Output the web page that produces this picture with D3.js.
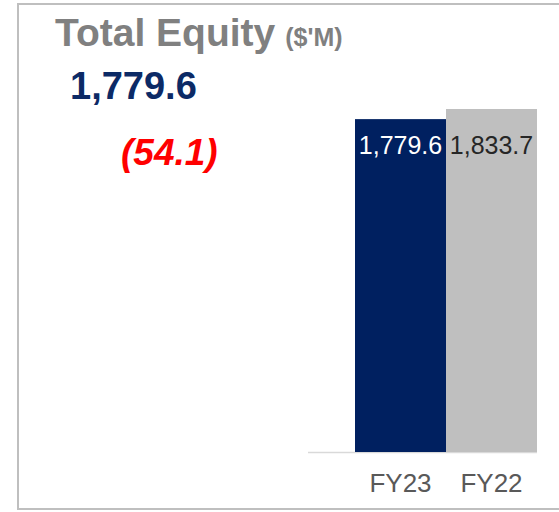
<!DOCTYPE html>
<html>
<head>
<meta charset="utf-8">
<script src="https://cdn.jsdelivr.net/npm/d3@7"></script>
<style>
  body { margin: 0; background: #fff; }
  text { font-family: "Liberation Sans", Arial, sans-serif; }
</style>
</head>
<body>
<div id="chart-area"></div>
<script>
var w = 559;
var h = 512;

// data
var years = ["FY23", "FY22"];
var equity = [1779.6, 1833.7];
var barColors = ["#002060", "#bfbfbf"];
var labelColors = ["#ffffff", "#262626"];
var headline = "1,779.6";
var change = "(54.1)";

var svg = d3.select('#chart-area').append('svg')
    .attr('width', w)
    .attr('height', h);

// frame
svg.append('path')
    .attr('d', 'M559,4 H18 V509 H559')
    .attr('fill', 'none')
    .attr('stroke', '#bfbfbf')
    .attr('stroke-width', 2);

// titles
var title = svg.append('text')
    .attr('x', 55)
    .attr('y', 46)
    .attr('font-size', 39)
    .attr('font-weight', 'bold')
    .attr('fill', '#808080');
title.append('tspan').text('Total Equity');
title.append('tspan').attr('font-size', 25).attr('dx', 10).text("($'M)");

svg.append('text')
    .attr('x', 70)
    .attr('y', 99)
    .attr('font-size', 38)
    .attr('font-weight', 'bold')
    .attr('fill', '#0c2a66')
    .text(headline);

svg.append('text')
    .attr('x', 121)
    .attr('y', 165)
    .attr('font-size', 37)
    .attr('font-weight', 'bold')
    .attr('font-style', 'italic')
    .attr('fill', '#ff0000')
    .text(change);

// bars
var x = d3.scaleBand()
    .domain(years)
    .range([355, 537])
    .padding(0);

var y = d3.scaleLinear()
    .domain([0, d3.max(equity)])
    .range([452, 109]);

svg.append('line')
    .attr('x1', 308)
    .attr('x2', 537)
    .attr('y1', 452.5)
    .attr('y2', 452.5)
    .attr('stroke', '#d9d9d9')
    .attr('stroke-width', 1.5);

svg.selectAll('rect.bar')
    .data(equity)
    .enter()
    .append('rect')
    .attr('class', 'bar')
    .attr('x', (d, i) => x(years[i]))
    .attr('y', d => y(d))
    .attr('width', x.bandwidth())
    .attr('height', d => y(0) - y(d))
    .attr('fill', (d, i) => barColors[i]);

var fmt = d3.format(",.1f");
svg.selectAll('text.val')
    .data(equity)
    .enter()
    .append('text')
    .attr('class', 'val')
    .attr('x', (d, i) => x(years[i]) + x.bandwidth() / 2)
    .attr('y', 154)
    .attr('text-anchor', 'middle')
    .attr('font-size', 25)
    .attr('fill', (d, i) => labelColors[i])
    .text(d => fmt(d));

var xAxis = svg.append('g')
    .attr('transform', 'translate(0,452)')
    .call(d3.axisBottom(x).tickSize(0).tickPadding(22));
xAxis.select('.domain').remove();
xAxis.selectAll('text')
    .attr('font-size', 26)
    .attr('font-family', '"Liberation Sans", Arial, sans-serif')
    .attr('fill', '#595959');
</script>
</body>
</html>
